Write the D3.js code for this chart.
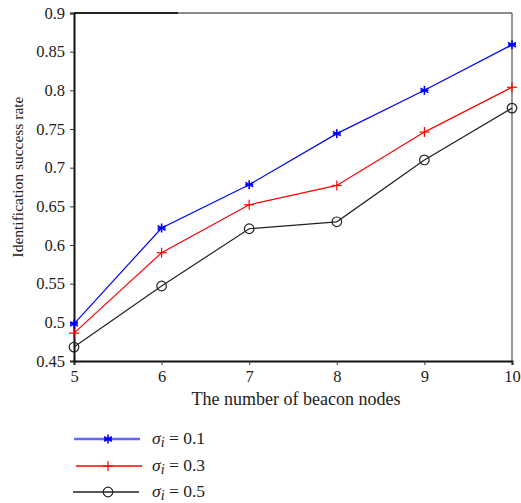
<!DOCTYPE html>
<html>
<head>
<meta charset="utf-8">
<script src="https://cdn.jsdelivr.net/npm/d3@7"></script>
<style>
  body { margin: 0; background: #fff; }
  text { font-family: "Liberation Serif", "DejaVu Serif", serif; fill: #222; }
</style>
</head>
<body>
<div class="chart"></div>
<script>
// data
var nodes = [5, 6, 7, 8, 9, 10];
var sigma01 = [0.498, 0.622, 0.678, 0.744, 0.800, 0.859];
var sigma03 = [0.486, 0.590, 0.652, 0.677, 0.746, 0.804];
var sigma05 = [0.468, 0.547, 0.621, 0.630, 0.710, 0.777];
var yTicks = [0.45, 0.5, 0.55, 0.6, 0.65, 0.7, 0.75, 0.8, 0.85, 0.9];
var seriesNames = ['0.1', '0.3', '0.5'];
var seriesColors = ['#0000ff', '#ff0000', '#222222'];
var seriesMarks = ['star', 'plus', 'circle'];

var svg = d3.select('.chart')
  .append('svg')
  .attr('width', 521)
  .attr('height', 503);

var x = d3.scaleLinear().domain([5, 10]).range([74, 512]);
var y = d3.scaleLinear().domain([0.45, 0.9]).range([361, 13]);

// frame: top & right lighter, top starts darker
svg.append('line')
  .attr('x1', 74).attr('x2', 512).attr('y1', 13).attr('y2', 13)
  .attr('stroke', '#666').attr('stroke-width', 1.5);
svg.append('line')
  .attr('x1', 74).attr('x2', 178).attr('y1', 13).attr('y2', 13)
  .attr('stroke', '#222').attr('stroke-width', 1.8);
svg.append('line')
  .attr('x1', 512).attr('x2', 512).attr('y1', 13).attr('y2', 361)
  .attr('stroke', '#555').attr('stroke-width', 1.2);

var xAxis = svg.append('g')
  .attr('transform', 'translate(0,361)')
  .call(d3.axisBottom(x).tickValues(nodes).tickSize(4).tickPadding(5).tickFormat(d3.format('d')));
var yAxis = svg.append('g')
  .attr('transform', 'translate(74,0)')
  .call(d3.axisLeft(y).tickValues(yTicks).tickSize(4).tickPadding(5).tickFormat(function(d) { return String(+d.toFixed(2)); }));

[xAxis, yAxis].forEach(function(a) {
  a.select('.domain').attr('stroke', '#111').attr('stroke-width', 2);
  a.selectAll('.tick line').attr('stroke', '#333');
  a.selectAll('text')
    .style('font-family', '"Liberation Serif", serif')
    .style('font-size', '16.5px')
    .attr('fill', '#222');
});

svg.append('text')
  .attr('x', 296).attr('y', 405)
  .attr('text-anchor', 'middle')
  .style('font-size', '18px')
  .text('The number of beacon nodes');

svg.append('text')
  .attr('transform', 'translate(23,177) rotate(-90)')
  .attr('text-anchor', 'middle')
  .style('font-size', '15.5px')
  .text('Identification success rate');

function drawMark(g, kind, color) {
  if (kind === 'star') {
    [0, 60, 120].forEach(function(a) {
      var r = a * Math.PI / 180;
      g.append('line')
        .attr('x1', -4.5 * Math.sin(r)).attr('y1', -4.5 * Math.cos(r))
        .attr('x2', 4.5 * Math.sin(r)).attr('y2', 4.5 * Math.cos(r))
        .attr('stroke', color).attr('stroke-width', 1.6);
    });
    g.append('line').attr('x1', -4).attr('x2', 4).attr('y1', 0).attr('y2', 0)
      .attr('stroke', color).attr('stroke-width', 1.6);
  } else if (kind === 'plus') {
    g.append('line').attr('x1', -5).attr('x2', 5).attr('y1', 0).attr('y2', 0)
      .attr('stroke', color).attr('stroke-width', 1.2);
    g.append('line').attr('x1', 0).attr('x2', 0).attr('y1', -5).attr('y2', 5)
      .attr('stroke', color).attr('stroke-width', 1.2);
  } else {
    g.append('circle').attr('r', 4.8)
      .attr('fill', 'none').attr('stroke', color).attr('stroke-width', 1.2);
  }
}

var line = d3.line()
  .x(function(d) { return x(d[0]); })
  .y(function(d) { return y(d[1]); });

[sigma01, sigma03, sigma05].forEach(function(vals, i) {
  var pts = nodes.map(function(n, j) { return [n, vals[j]]; });
  svg.append('path')
    .datum(pts)
    .attr('d', line)
    .attr('fill', 'none')
    .attr('stroke', seriesColors[i])
    .attr('stroke-width', 1.2);
  pts.forEach(function(p) {
    var g = svg.append('g').attr('transform', 'translate(' + x(p[0]) + ',' + y(p[1]) + ')');
    drawMark(g, seriesMarks[i], seriesColors[i]);
  });
});

// legend
var legY = [439, 466, 492];
var legX0 = [74, 76, 73];
seriesNames.forEach(function(name, i) {
  var ly = legY[i];
  svg.append('line')
    .attr('x1', legX0[i]).attr('x2', legX0[i] + 66).attr('y1', ly).attr('y2', ly)
    .attr('stroke', seriesColors[i])
    .attr('stroke-opacity', i === 0 ? 0.6 : 1)
    .attr('stroke-width', i === 0 ? 2.5 : 1.3);
  var g = svg.append('g').attr('transform', 'translate(108,' + ly + ')');
  drawMark(g, seriesMarks[i], seriesColors[i]);
  var t = svg.append('text')
    .attr('x', 152).attr('y', ly + 5)
    .style('font-size', '17.5px');
  t.append('tspan').style('font-style', 'italic').text('σ');
  t.append('tspan').style('font-style', 'italic').style('font-size', '14px').attr('dy', 3).text('i');
  t.append('tspan').attr('dy', -3).text(' = ' + name);
});
</script>
</body>
</html>
